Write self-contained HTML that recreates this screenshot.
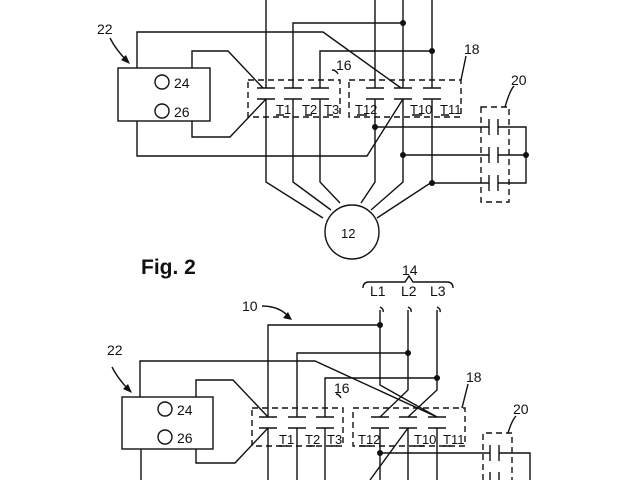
<!DOCTYPE html>
<html><head><meta charset="utf-8"><style>
html,body{margin:0;padding:0;background:#fff;}
svg{display:block;}
text{font-family:"Liberation Sans",sans-serif;fill:#111;}
</style></head><body>
<svg width="640" height="480" viewBox="0 0 640 480" xmlns="http://www.w3.org/2000/svg">
<rect width="640" height="480" fill="#fff"/>
<g stroke="#111" stroke-width="1.4" fill="none">
<!-- ===== TOP FIGURE ===== -->
<!-- supply lines -->
<path d="M266 0V88 M375 0V88 M403 0V88 M432 0V88"/>
<path d="M293 88V23H403 M320 88V51H432"/>
<!-- box 22 -->
<rect x="118" y="68" width="92" height="53"/>
<circle cx="162" cy="82" r="7"/>
<circle cx="162" cy="111" r="7"/>
<path d="M137 68V32H323L401 88"/>
<path d="M192 68V51H228L263 88"/>
<path d="M192 121V137H230L266 99"/>
<path d="M137 121V156H367L403 99"/>
<!-- contacts -->
<path d="M257 88h18M257 99h18 M284 88h18M284 99h18 M311 88h18M311 99h18 M366 88h18M366 99h18 M394 88h18M394 99h18 M423 88h18M423 99h18"/>
<!-- dashed boxes -->
<rect x="248" y="80" width="92" height="37" stroke-dasharray="6,4"/>
<rect x="349" y="80" width="112" height="37" stroke-dasharray="6,4"/>
<path d="M332 70q4 0 6 4"/>
<path d="M466 56l-5 24"/>
<!-- under labels -->
<path d="M276 115h8 M305 115h7 M327 115h6 M357 115h10 M412 115h10 M441 115h8"/>
<!-- to motor -->
<path d="M266 99V182L323 218 M293 99V182L331 210 M320 99V182L340 203 M375 99V182L361 203 M403 99V182L371 210 M432 99V182L377 218"/>
<circle cx="352" cy="232" r="27"/>
<!-- to box 20 -->
<path d="M375 127H489 M403 155H489 M432 183H489"/>
<path d="M489 119v16M498 119v16 M489 147v16M498 147v16 M489 175v16M498 175v16"/>
<path d="M498 127H526V183H498 M498 155H526"/>
<rect x="481" y="107" width="28" height="95" stroke-dasharray="6,4"/>
<path d="M514 86q-4 4 -9 21"/>
<!-- 22 arrow -->
<path d="M110 38q6 12 18 24"/>
<!-- ===== BOTTOM FIGURE ===== -->
<path d="M363 288q0-6 6-6h36l4-6 4 6h34q6 0 6 6"/>
<path d="M380 307q4 2 3 5 M408 307q4 2 3 5 M437 307q4 2 3 5"/>
<path d="M380 310V385L437 417 M408 310V390L380 417 M437 310V390L408 417"/>
<path d="M268 417V325H380 M297 417V353H408 M325 417V378H437"/>
<rect x="122" y="397" width="91" height="52"/>
<circle cx="165" cy="409" r="7"/>
<circle cx="165" cy="437" r="7"/>
<path d="M140 397V361H315L437 417"/>
<path d="M196 397V380H233L268 417"/>
<path d="M196 449V463H235L268 428"/>
<path d="M141 449V480"/>
<path d="M259 417h18M259 428h18 M288 417h18M288 428h18 M316 417h18M316 428h18 M371 417h18M371 428h18 M399 417h18M399 428h18 M428 417h18M428 428h18"/>
<rect x="252" y="408" width="91" height="38" stroke-dasharray="6,4"/>
<rect x="353" y="408" width="112" height="38" stroke-dasharray="6,4"/>
<path d="M336 394q3 0 5 4"/>
<path d="M468 384l-6 24"/>
<path d="M279 446h8 M308 446h7 M331 446h6 M360 446h10 M414 446h10 M443 446h8"/>
<path d="M268 428V480 M297 428V480 M325 428V480 M380 428V480 M408 428V480 M437 428V480"/>
<path d="M408 428L370 480"/>
<path d="M380 453H490 M490 445v16M499 445v16 M499 453H530V480 M490 472v8M499 472v8"/>
<path d="M483 480V433h29V480" stroke-dasharray="6,4"/>
<path d="M516 416q-4 4 -8 17"/>
<path d="M112 367q6 12 18 24"/>
<path d="M262 306q18 0 28 12"/>
</g>
<!-- arrowheads -->
<g fill="#111">
<polygon points="130,64 121,60 126,55"/>
<polygon points="132,393 123,389 128,384"/>
<polygon points="292,320 283,318 288,312"/>
<!-- dots -->
<circle cx="403" cy="23" r="3"/><circle cx="432" cy="51" r="3"/>
<circle cx="375" cy="127" r="3"/><circle cx="403" cy="155" r="3"/><circle cx="432" cy="183" r="3"/>
<circle cx="526" cy="155" r="3"/>
<circle cx="380" cy="325" r="3"/><circle cx="408" cy="353" r="3"/><circle cx="437" cy="378" r="3"/>
<circle cx="380" cy="453" r="3"/>
</g>
<g font-size="14">
<text x="97" y="34">22</text>
<text x="174" y="88">24</text>
<text x="174" y="117">26</text>
<text x="336" y="70">16</text>
<text x="464" y="54">18</text>
<text x="511" y="85">20</text>
<text x="341" y="238" font-size="13">12</text>
<text x="276" y="114" font-size="13">T1</text>
<text x="302" y="114" font-size="13">T2</text>
<text x="324" y="114" font-size="13">T3</text>
<text x="355" y="114" font-size="13">T12</text>
<text x="410" y="114" font-size="13">T10</text>
<text x="440" y="114" font-size="13">T11</text>
<text x="141" y="274" font-size="21" font-weight="bold">Fig. 2</text>
<text x="402" y="275">14</text>
<text x="370" y="296">L1</text>
<text x="401" y="296">L2</text>
<text x="430" y="296">L3</text>
<text x="242" y="311">10</text>
<text x="107" y="355">22</text>
<text x="177" y="415">24</text>
<text x="177" y="443">26</text>
<text x="334" y="393">16</text>
<text x="466" y="382">18</text>
<text x="513" y="414">20</text>
<text x="279" y="444" font-size="13">T1</text>
<text x="305" y="444" font-size="13">T2</text>
<text x="327" y="444" font-size="13">T3</text>
<text x="358" y="444" font-size="13">T12</text>
<text x="414" y="444" font-size="13">T10</text>
<text x="443" y="444" font-size="13">T11</text>
</g>
</svg>
</body></html>
